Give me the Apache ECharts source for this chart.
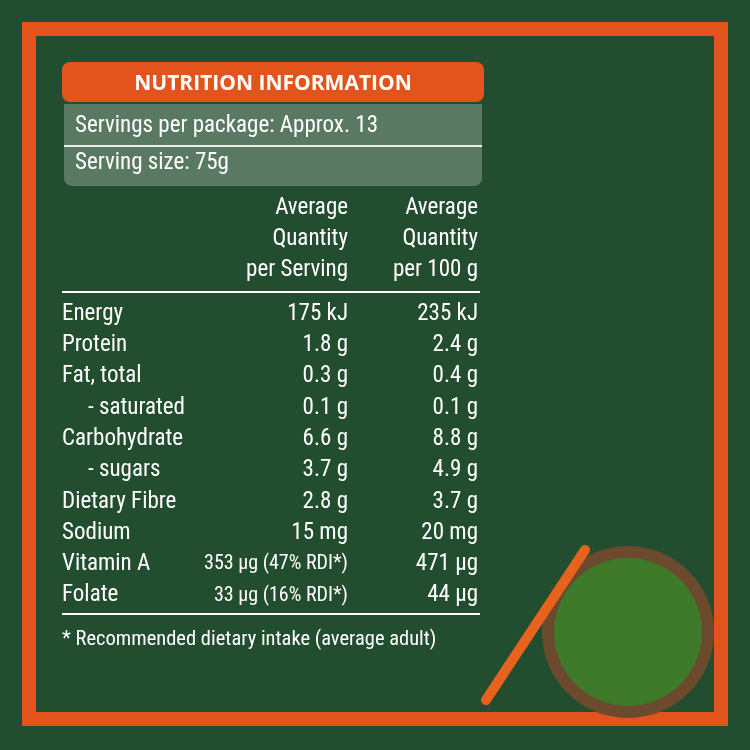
<!DOCTYPE html>
<html><head><meta charset="utf-8">
<script src="https://cdn.jsdelivr.net/npm/echarts@6/dist/echarts.min.js"></script>
<style>html,body{margin:0;padding:0;background:#234d2f}#c{width:750px;height:750px}</style>
</head><body><div id="c"></div>
<script>
const title = 'NUTRITION INFORMATION'
const servingInfo = ['Servings per package: Approx. 13', 'Serving size: 75g']
const colHeaders = [['Average', 'Quantity', 'per Serving'], ['Average', 'Quantity', 'per 100 g']]
const nutrients = ['Energy', 'Protein', 'Fat, total', '- saturated', 'Carbohydrate', '- sugars', 'Dietary Fibre', 'Sodium', 'Vitamin A', 'Folate']
const indented = [false, false, false, true, false, true, false, false, false, false]
const perServing = ['175 kJ', '1.8 g', '0.3 g', '0.1 g', '6.6 g', '3.7 g', '2.8 g', '15 mg', '353 µg (47% RDI*)', '33 µg (16% RDI*)']
const per100g = ['235 kJ', '2.4 g', '0.4 g', '0.1 g', '8.8 g', '4.9 g', '3.7 g', '20 mg', '471 µg', '44 µg']
const footnote = '* Recommended dietary intake (average adult)'

const chart = echarts.init(document.getElementById('c'))
const font = '"Roboto Condensed", "DejaVu Sans Condensed", Roboto, sans-serif'
const txt = (x, y, t, align, size) => ({
    type: 'text', x, y,
    style: { text: t, fill: '#fff', font: `${size || 23}px ${font}`, align: align || 'left', verticalAlign: 'middle' }
})

const g = []
// orange frame
g.push({ type: 'rect', shape: { x: 29, y: 29, width: 692, height: 690 }, style: { fill: 'none', stroke: '#e2541b', lineWidth: 14 } })
// bowl of vegetables (simplified)
g.push({ type: 'circle', shape: { cx: 628, cy: 632, r: 86 }, style: { fill: '#6b4a2e' } })
g.push({ type: 'circle', shape: { cx: 628, cy: 632, r: 74 }, style: { fill: '#3f7a2a' } })
g.push({ type: 'line', shape: { x1: 486, y1: 700, x2: 585, y2: 550 }, style: { stroke: '#e8621e', lineWidth: 10, lineCap: 'round' } })
// header
g.push({ type: 'rect', shape: { x: 62, y: 62, width: 422, height: 40, r: 8 }, style: { fill: '#e2541b' } })
g.push({ type: 'text', x: 273, y: 84, style: { text: title, fill: '#fff', font: 'bold 21px "Open Sans", sans-serif', align: 'center', verticalAlign: 'middle' } })
g.push({ type: 'rect', shape: { x: 64, y: 104, width: 418, height: 82, r: [0, 0, 8, 8] }, style: { fill: 'rgba(255,255,255,0.25)' } })
g.push({ type: 'line', shape: { x1: 64, y1: 146, x2: 482, y2: 146 }, style: { stroke: '#e9efe9', lineWidth: 2 } })
g.push(txt(75, 126, servingInfo[0]))
g.push(txt(75, 163, servingInfo[1]))
// column headers
colHeaders.forEach((lines, c) => {
    lines.forEach((l, i) => g.push(txt(c ? 478 : 348, 208 + i * 31, l, 'right')))
})
g.push({ type: 'line', shape: { x1: 62, y1: 292, x2: 480, y2: 292 }, style: { stroke: '#fff', lineWidth: 2 } })
nutrients.forEach((n, i) => {
    const y = 314 + i * 31.3
    g.push(txt(indented[i] ? 88 : 62, y, n))
    g.push(txt(348, y, perServing[i], 'right', i >= 8 ? 20 : 23))
    g.push(txt(478, y, per100g[i], 'right'))
})
g.push({ type: 'line', shape: { x1: 62, y1: 614, x2: 480, y2: 614 }, style: { stroke: '#fff', lineWidth: 2 } })
g.push(txt(62, 640, footnote, 'left', 20.5))

chart.setOption({ backgroundColor: '#234d2f', graphic: { elements: g } })
</script></body></html>
